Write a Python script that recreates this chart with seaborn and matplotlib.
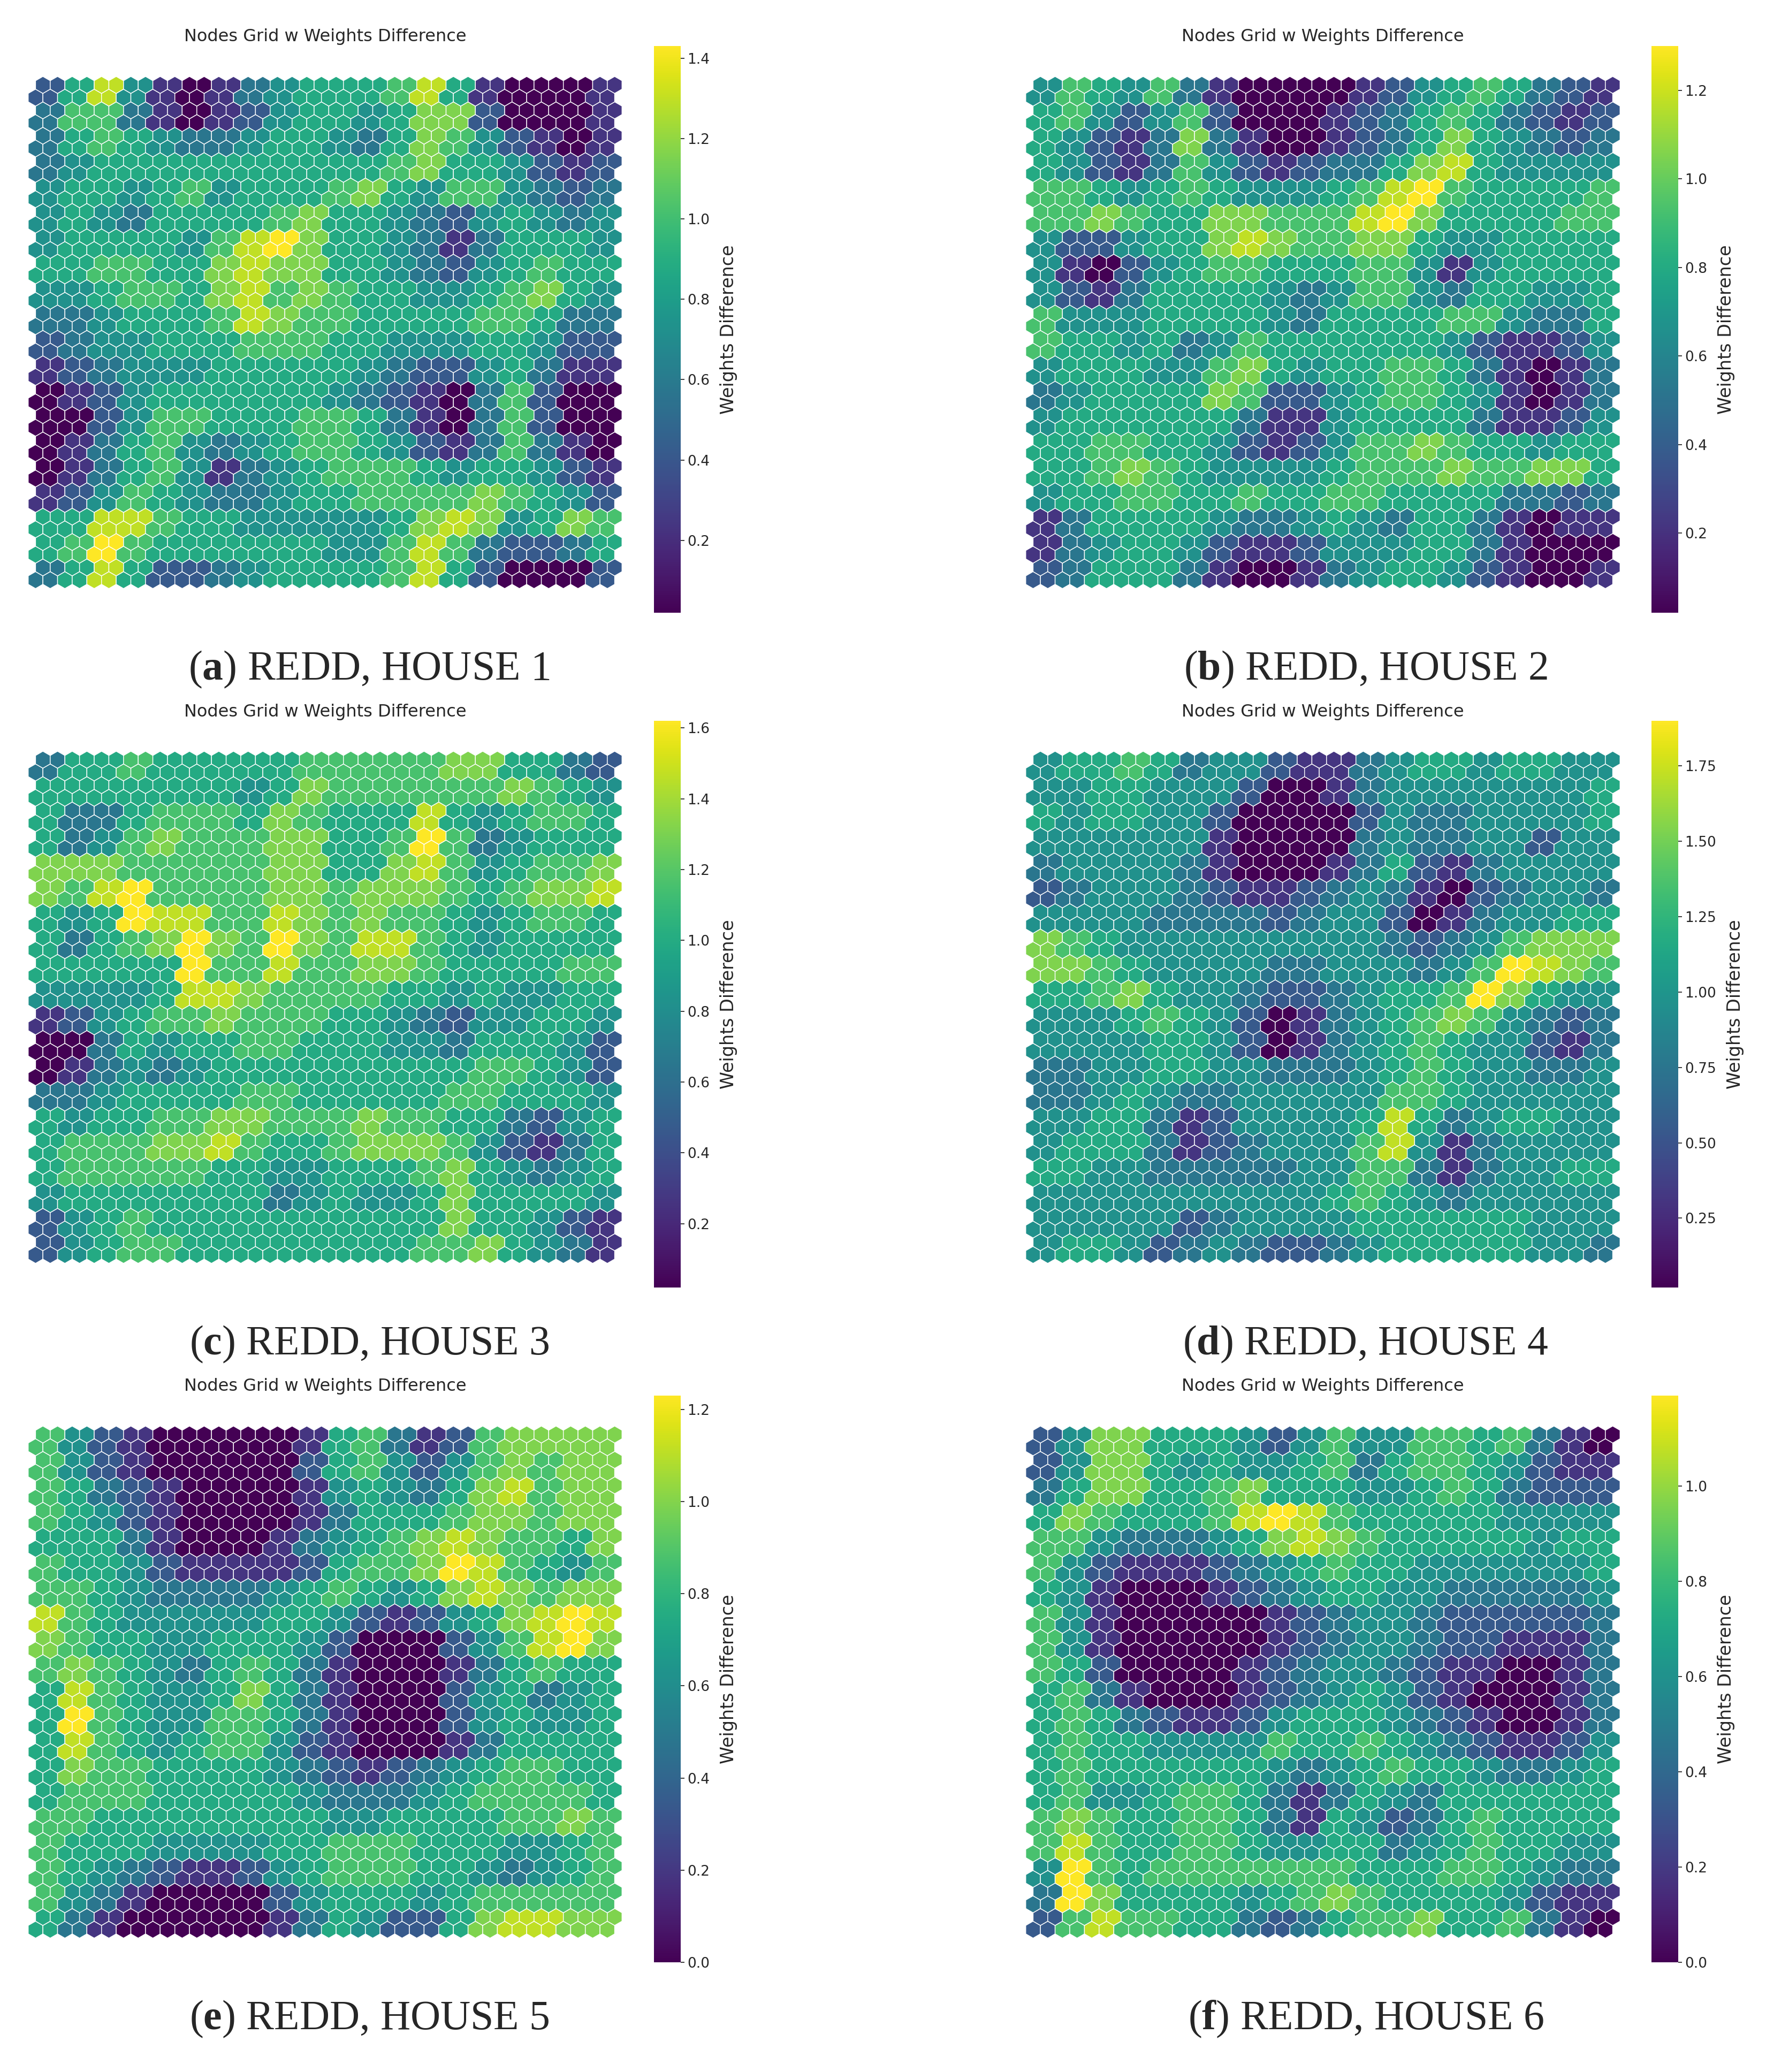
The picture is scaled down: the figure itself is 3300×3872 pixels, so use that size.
import numpy as np
import pandas as pd
import matplotlib
matplotlib.use("Agg")
import matplotlib.pyplot as plt
import seaborn as sns

sns.set_theme(style="white")
plt.rcParams['font.family'] = ['DejaVu Sans']
plt.rcParams['mathtext.fontset'] = 'custom'
plt.rcParams['mathtext.bf'] = 'Liberation Serif:bold'
plt.rcParams['mathtext.rm'] = 'Liberation Serif'

# Coarse U-matrix levels (0-9), 20x20 blocks per panel, top row first.
house1 = ["25841013455568510001","36631012455457720001","35654334554357642101","34555555555567554212",
          "45545645556754664323","45435555675543245434","45555468975543135554","55665578775543245655",
          "44566578676554456754","33455568766555566533","23445556665544455422","12344455555432245311",
          "01245555554321036200","00246655566531036200","01356434566542136310","01356413456665455421",
          "12465433455666676542","55886554444457874576","56965555554468632235","35852234555568520002"]
house2 = ["46546310000124565321","56424620001235653212","54213731001235754323","54213642123357854444",
          "66545654445689655556","66765577666897555566","42245578766775445555","41024566555664145555",
          "42135555434664355445","64445555435555664335","65545346555555421124","45554467545566531013",
          "34555576224566541013","45555553114555531124","55665542124667655455","55676544445666766775",
          "45566556556655553323","13555543345435531011","13455421124445531000","23555310013455421001"]
house3 = ["35565555566666775532","55555554576666667654","53356665765558545665","53467666775569634555",
          "77766666775578645667","76896666776777656778","54598866876766545665","53567976976886545555",
          "55555966866776555566","44445887666655454455","12456676665543244554","00354556655544355542",
          "01343455555555566542","33455556655555665554","54556677666766553245","56667786556777642135",
          "56666655445556754345","45555555345445755554","24565555555555755421","24566555555556675431"]
house4 = ["45565344211345545544","44554442001344444445","54554420000243344445","44444410000343344244",
          "34444310001352134444","23444321123431023443","44443333234420134455","76544444444432346777",
          "77654444334443469876","55675443223455697544","44456542013456764323","44445542013456544213",
          "33445544333456544334","33454334444466544444","44553124444585345544","45553123444684134444",
          "55443333344663134455","44444444445654344444","44444234444555555444","45542343223455555443"]
house5 = ["64210000015631267777","64210000025642467677","65321000014543578677","65421000013555677677",
          "55531000134567876657","65542111125667986546","66543333456545787677","86544444554212457898",
          "76554455542000246897","67654356531000135655","58654457531000245345","59654466531000245445",
          "58654566421000135555","57665555432123456655","56665555543334566665","66555555554455556676",
          "65554444556665554456","65432112456665543456","64310000245554566666","53100000135422578877"]
house6 = ["24775554246446656310","24775454456356654211","35775567555445653222","57655568986555554444",
          "66433345787655555455","64211123456554444445","54100012345544333334","64100000123443222223",
          "64100000123443221113","65200001234432110013","56310001234542100013","56532112455543210013",
          "56554444655654321124","56555555434565543345","56445665313543555555","67655665315423565555",
          "68655665445534565544","49656666666555665433","39755554567655554211","26866553235667556310"]

grids = [house1, house2, house3, house4, house5, house6]
vmins = [0.02, 0.02, 0.02, 0.02, 0.0, 0.0]
vmaxs = [1.43, 1.30, 1.62, 1.90, 1.23, 1.19]
letters = ["a", "b", "c", "d", "e", "f"]
captions = ["REDD, HOUSE 1", "REDD, HOUSE 2", "REDD, HOUSE 3", "REDD, HOUSE 4", "REDD, HOUSE 5", "REDD, HOUSE 6"]
NROW, NCOL = 40, 40

W, H = 3300, 3872
fig = plt.figure(figsize=(W / 100, H / 100), dpi=100)

def fx(p): return p / W
def fy(p): return 1 - p / H

for i, g in enumerate(grids):
    colp = i % 2
    rowp = i // 2
    dy = rowp * 1261
    x0 = 50 if colp == 0 else 1914
    x1 = 1165 if colp == 0 else 3030
    cbx = 1222 if colp == 0 else 3086
    top, bot = 135 + dy, 1101 + dy
    ax = fig.add_axes([fx(x0), fy(bot), fx(x1 - x0), (bot - top) / H])
    recs = []
    for r in range(NROW):
        t = NROW - 1 - r
        for c in range(NCOL):
            d = int(g[t // 2][c // 2])
            v = vmins[i] + (d / 9) ** 0.85 * (vmaxs[i] - vmins[i])
            recs.append((c + 0.5 * (r % 2), r * np.sqrt(3) / 2, v))
    df = pd.DataFrame(recs, columns=["x", "y", "val"])
    ax.set_xlim(-0.6, NCOL + 0.1)
    ax.set_ylim(-0.62, 34.64)
    ax.set_aspect('equal', adjustable='datalim')
    fig.canvas.draw()
    ppu = ax.transData.transform((1, 0))[0] - ax.transData.transform((0, 0))[0]
    ms = ppu * 72 / 100 / 0.866
    sns.scatterplot(data=df, x="x", y="y", hue="val", palette="viridis",
                    hue_norm=(vmins[i], vmaxs[i]), marker="h", s=ms ** 2,
                    edgecolor="white", linewidth=1.0, legend=False, ax=ax)
    ax.set_xlim(-0.6, NCOL + 0.1)
    ax.set_axis_off()
    ax.set_xlabel(""); ax.set_ylabel("")
    fig.text(fx((x0 + x1) / 2), fy(69 + dy), "Nodes Grid w Weights Difference",
             ha="center", va="center", fontsize=23)
    cax = fig.add_axes([fx(cbx), fy(1145 + dy), fx(50), 1059 / H])
    sm = plt.cm.ScalarMappable(cmap="viridis", norm=plt.Normalize(vmins[i], vmaxs[i]))
    cb = fig.colorbar(sm, cax=cax)
    cb.outline.set_visible(False)
    cb.ax.tick_params(labelsize=19, length=5)
    cb.set_label("Weights Difference", fontsize=24, labelpad=14)
    fig.text(fx(690 if colp == 0 else 2552), fy(1251 + dy),
             r"($\mathbf{" + letters[i] + r"}$) " + captions[i],
             ha="center", va="center", fontsize=56, family="Liberation Serif")

fig.savefig("out.png", dpi=100)
